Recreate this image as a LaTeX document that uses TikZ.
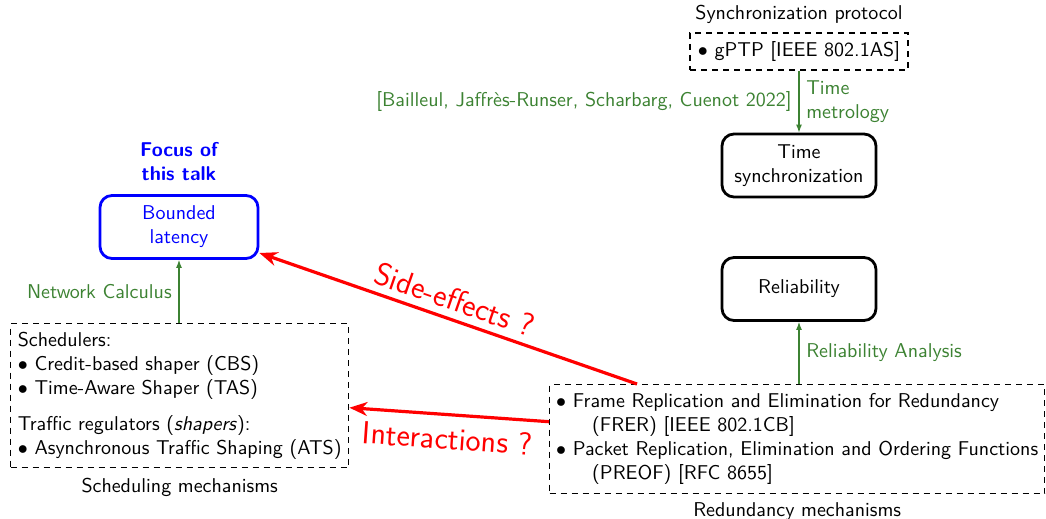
\documentclass[tikz,border=0pt]{standalone}
\usepackage{fontspec}
\usetikzlibrary{arrows.meta,positioning}
\definecolor{grn}{RGB}{60,130,50}
\newcommand{\bul}{$\bullet$\ }
\begin{document}
\begin{tikzpicture}[x=0.5pt,y=-0.5pt,font=\sffamily,
  dbox/.style={draw, dash pattern=on 3pt off 2.5pt, line width=0.7pt, inner xsep=3pt, inner ysep=2pt, align=left},
  rbox/.style={draw, line width=1.4pt, rounded corners=6pt, align=center, minimum width=77pt, minimum height=31.5pt},
  garrow/.style={draw=grn, line width=0.6pt, -{Latex[length=4pt,width=3pt]}},
  rarrow/.style={draw=red, line width=1.6pt, -{Stealth[length=9pt,width=7pt]}},
  glabel/.style={text=grn},
  rlabel/.style={text=red, font=\sffamily\fontsize{16}{18}\selectfont}]
\useasboundingbox (0,0) rectangle (1046,519);

% top right
\node[dbox, minimum width=109pt, minimum height=18.5pt] (gptp) at (799,51.5) {\bul gPTP [IEEE 802.1AS]};
\node[above=1pt of gptp] (sp) {Synchronization protocol};
\node[rbox] (ts) at (799,165.5) {Time\\synchronization};
\node[rbox] (rel) at (799,289) {Reliability};

% redundancy
\node[dbox, minimum width=247.5pt, minimum height=54.5pt, anchor=north west] (redund) at (549,384)
  {\bul Frame Replication and Elimination for Redundancy\\
   \hspace*{18pt}(FRER) [IEEE 802.1CB]\\
   \bul Packet Replication, Elimination and Ordering Functions\\
   \hspace*{18pt}(PREOF) [RFC 8655]};
\node[below=0.5pt of redund] (rm) {Redundancy mechanisms};

% left
\node[rbox, draw=blue, text=blue, minimum width=79pt] (bl) at (179,227) {Bounded\\latency};
\node[text=blue, font=\sffamily\bfseries, align=center] (focus) at (179,162) {Focus of\\this talk};
\node[dbox, minimum width=169pt, minimum height=72pt, anchor=north west] (sched) at (10,323)
  {Schedulers:\\
   \bul Credit-based shaper (CBS)\\
   \bul Time-Aware Shaper (TAS)\\[6pt]
   Traffic regulators (\textit{shapers}):\\
   \bul Asynchronous Traffic Shaping (ATS)};
\node[below=1.5pt of sched] (sm) {Scheduling mechanisms};

% green arrows
\draw[garrow] (gptp) -- node[glabel, right, align=left] {Time\\metrology}
  node[glabel, left] {[Bailleul, Jaffrès-Runser, Scharbarg, Cuenot 2022]} (ts);
\draw[garrow] (redund.north -| rel.south) -- node[glabel, right] {Reliability Analysis} (rel.south);
\draw[garrow] (sched.north -| bl.south) -- node[glabel, left] {Network Calculus} (bl.south);

% red arrows
\draw[rarrow] ([xshift=44pt]redund.north west) -- node[rlabel, sloped, above=0pt] {Side-effects ?} ([yshift=-13pt]bl.east);
\draw[rarrow] ([yshift=8.75pt]redund.west) -- node[rlabel, sloped, below=2pt] {Interactions ?} ([yshift=-6pt]sched.east);
\end{tikzpicture}
\end{document}
